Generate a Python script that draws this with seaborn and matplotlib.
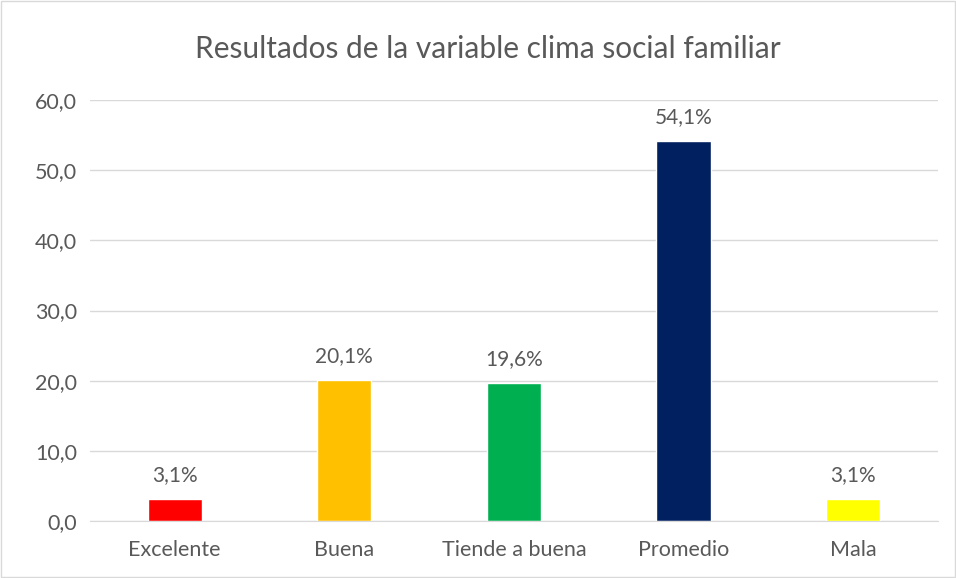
import pandas as pd
import matplotlib.pyplot as plt
import seaborn as sns

# Values
categorias = ['Excelente', 'Buena', 'Tiende a buena', 'Promedio', 'Mala']
porcentajes = [3.1, 20.1, 19.6, 54.1, 3.1]
colores = ['#FF0000', '#FFC000', '#00B050', '#002060', '#FFFF00']

df = pd.DataFrame({'Categoria': categorias, 'Porcentaje': porcentajes})

sns.set_style('white')
plt.rcParams['font.family'] = ['Lato', 'DejaVu Sans']
texto = '#595959'

fig = plt.figure(figsize=(9.56, 5.78), dpi=100)
ax = fig.add_axes([0.094, 0.0986, 0.887, 0.7284])

sns.barplot(data=df, x='Categoria', y='Porcentaje', hue='Categoria',
            palette=colores, width=0.32, legend=False, saturation=1, ax=ax)

# Data labels above each bar
for i, v in enumerate(porcentajes):
    ax.text(i, v + 2.0, f'{v:.1f}%'.replace('.', ','), ha='center', va='bottom',
            fontsize=15, color=texto)

ax.set_ylim(0, 60)
ax.set_yticks(range(0, 61, 10))
ax.set_yticklabels([f'{t:.1f}'.replace('.', ',') for t in range(0, 61, 10)])
ax.yaxis.grid(True, color='#D9D9D9', linewidth=1)
ax.set_axisbelow(True)
ax.tick_params(axis='both', length=0, labelsize=15.5, colors=texto)
ax.tick_params(axis='x', pad=14)
ax.tick_params(axis='y', pad=9)
ax.set_xlabel('')
ax.set_ylabel('')
for side in ['top', 'right', 'left']:
    ax.spines[side].set_visible(False)
ax.spines['bottom'].set_color('#D9D9D9')

fig.suptitle('Resultados de la variable clima social familiar', x=0.51, y=0.94,
             fontsize=21.5, color=texto)

# Light border around the chart area
fig.patches.append(plt.Rectangle((0.001, 0.001), 0.998, 0.998, transform=fig.transFigure,
                                 fill=False, edgecolor='#D9D9D9', linewidth=1))

fig.savefig('out.png', dpi=100)
